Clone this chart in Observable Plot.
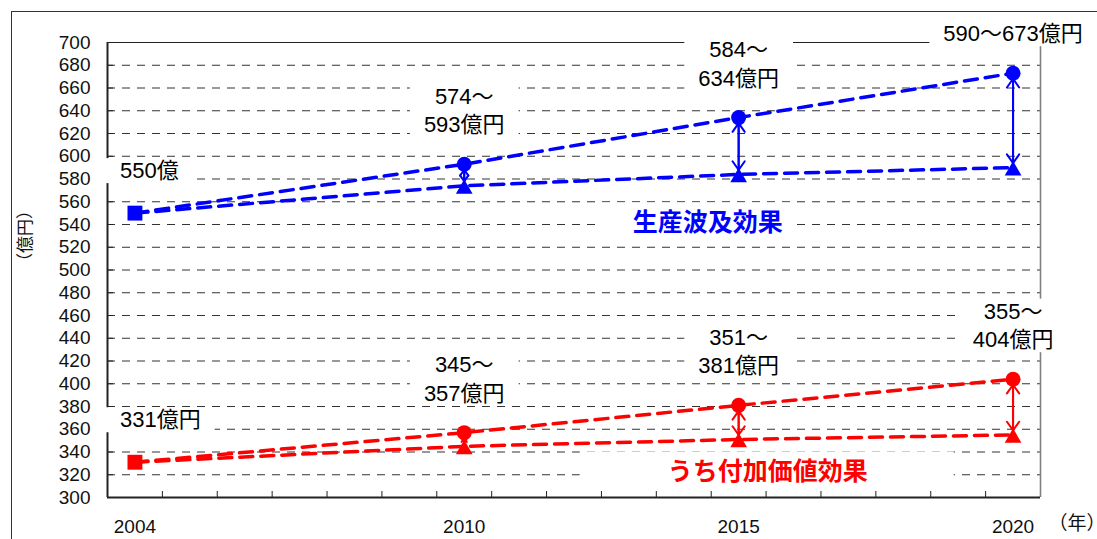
<!DOCTYPE html>
<html><head><meta charset="utf-8">
<script src="https://cdn.jsdelivr.net/npm/d3@7"></script>
<script src="https://cdn.jsdelivr.net/npm/@observablehq/plot@0.6"></script>
<style>
html,body{margin:0;padding:0;background:#fff;}
#wrap{position:relative;width:1097px;height:539px;overflow:hidden;}
#outer{position:absolute;left:11px;top:11px;width:1200px;height:700px;border-left:1.5px solid #333;border-top:1.5px solid #333;pointer-events:none;}
</style></head><body>
<div id="wrap"><div id="chart"></div><div id="outer"></div></div>
<script>
// ---- data ----
const years = [2004, 2005, 2006, 2007, 2008, 2009, 2010, 2011, 2012, 2013, 2014, 2015, 2016, 2017, 2018, 2019, 2020];
const labelYears = [2004, 2010, 2015, 2020];
const yTicks = [300, 320, 340, 360, 380, 400, 420, 440, 460, 480, 500, 520, 540, 560, 580, 600, 620, 640, 660, 680, 700];
const pointYears = [2004, 2010, 2015, 2020];
const prodHigh = [550, 593, 634, 673];
const prodLow = [550, 574, 584, 590];
const addHigh = [331, 357, 381, 404];
const addLow = [331, 345, 351, 355];
const prodText = ["550億", "574～\n593億円", "584～\n634億円", "590～673億円"];
const addText = ["331億円", "345～\n357億円", "351～\n381億円", "355～\n404億円"];
const seriesNames = ["生産波及効果", "うち付加価値効果"];
const yTitle = "（億円）";
const xTitle = "（年）";

// ---- styles ----
const BLUE = "#0000ff", RED = "#ff0000";
const FONT = '"Liberation Sans", Arial, "Noto Sans CJK JP", sans-serif';
const JFONT = '"Noto Sans CJK JP", sans-serif';

const xDomain = [years[0] - 0.5, years[years.length - 1] + 0.5];
const yDomain = [yTicks[0], yTicks[yTicks.length - 1]];
const gridVals = yTicks.slice(1, -1);
const boundaries = years.slice(1).map(y => y - 0.5);

const series = [
  {color: BLUE, high: prodHigh, low: prodLow, text: prodText, name: seriesNames[0], nameDx: -31, nameDy: 49, padL: 37, padR: 13},
  {color: RED, high: addHigh, low: addLow, text: addText, name: seriesNames[1], nameDx: 29, nameDy: 33, padL: 88, padR: 86}
];

const marks = [
  Plot.ruleY(gridVals, {stroke: "#333", strokeWidth: 1, strokeDasharray: "8,7"}),
  Plot.ruleY([yDomain[1]], {stroke: "#222", strokeWidth: 1.2}),
  Plot.ruleX([xDomain[1]], {stroke: "#808080", strokeWidth: 1.6}),
  Plot.ruleX([xDomain[0]], {stroke: "#222", strokeWidth: 2}),
  Plot.ruleY([yDomain[0]], {stroke: "#222", strokeWidth: 2}),
  Plot.axisY(yTicks, {tickSize: 6, dx: 6, tickFormat: () => "", stroke: "#222", label: null}),
  Plot.axisY(yTicks, {tickSize: 0, tickPadding: 17, tickFormat: d => String(d), fontSize: 19, fill: "#111", label: null}),
  Plot.axisX(boundaries, {tickSize: 6, dy: -6, tickFormat: () => "", stroke: "#222", label: null}),
  Plot.axisX(labelYears, {tickSize: 0, tickPadding: 22, tickFormat: d => String(d), fontSize: 19, fill: "#111", label: null})
];

const labelFirst = [], labelRest = [];
series.forEach(s => {
  const highRows = pointYears.map((year, i) => ({year, value: s.high[i]}));
  const lowRows = pointYears.map((year, i) => ({year, value: s.low[i]}));
  const arrowRows = pointYears.slice(1).map((year, j) => ({year, high: s.high[j + 1], low: s.low[j + 1]}));
  pointYears.forEach((year, i) => (i === 0 ? labelFirst : labelRest).push({year, value: s.high[i], text: s.text[i]}));
  marks.push(
    Plot.line(highRows, {x: "year", y: "value", stroke: s.color, strokeWidth: 3.5, strokeDasharray: "13,8"}),
    Plot.line(lowRows, {x: "year", y: "value", stroke: s.color, strokeWidth: 3.5, strokeDasharray: "13,8"}),
    Plot.arrow(arrowRows, {x1: "year", x2: "year", y1: "low", y2: "high", stroke: s.color, strokeWidth: 2, headLength: 8, headAngle: 70, insetStart: 4.5, insetEnd: 5.5}),
    Plot.arrow(arrowRows, {x1: "year", x2: "year", y1: "high", y2: "low", stroke: s.color, strokeWidth: 2, headLength: 8, headAngle: 70, insetStart: 5.5, insetEnd: 4.5}),
    Plot.dot(highRows.slice(0, 1), {x: "year", y: "value", symbol: "square", r: 8.4, fill: s.color}),
    Plot.dot(highRows.slice(1), {x: "year", y: "value", symbol: "circle", r: 7.5, fill: s.color}),
    Plot.dot(lowRows.slice(1), {x: "year", y: "value", symbol: "triangle", r: 6.2, dy: 3, fill: s.color}),
    Plot.text([{year: pointYears[2], value: s.low[2], name: s.name}], {x: "year", y: "value", text: "name", fill: s.color, fontFamily: JFONT, fontWeight: "bold", fontSize: 25, dx: s.nameDx, dy: s.nameDy, lineAnchor: "middle"})
  );
});

marks.push(
  Plot.text(labelRest, {x: "year", y: "value", text: "text", lineAnchor: "bottom", dy: -32, fontSize: 22, lineHeight: 1.3, fill: "#000"}),
  Plot.text(labelFirst, {x: "year", y: "value", text: "text", lineAnchor: "bottom", textAnchor: "start", dx: -15, dy: -35, fontSize: 22, lineHeight: 1.3, fill: "#000"}),
  Plot.text([yTitle], {frameAnchor: "left", text: d => d, rotate: -90, dx: -82, fontSize: 17, fontFamily: JFONT, fill: "#111"}),
  Plot.text([xTitle], {frameAnchor: "bottom-right", text: d => d, textAnchor: "start", dx: 8, dy: 32, fontSize: 19, fontFamily: JFONT, fill: "#111"})
);

const svg = Plot.plot({
  width: 1097, height: 539,
  marginLeft: 107, marginRight: 57, marginTop: 42, marginBottom: 42,
  x: {domain: xDomain, label: null},
  y: {domain: yDomain, label: null},
  style: {fontFamily: FONT, fontSize: "19px", color: "#111", background: "transparent"},
  marks
});
document.getElementById("chart").append(svg);

// white boxes behind annotation labels (hide gridlines like the original text boxes)
const NS = "http://www.w3.org/2000/svg";
const sr = svg.getBoundingClientRect();
const firstLine = svg.querySelector('g[aria-label="line"]');
const boxLayer = document.createElementNS(NS, "g");
svg.insertBefore(boxLayer, firstLine);
svg.querySelectorAll('g[aria-label="text"]').forEach(g => {
  const fs = g.getAttribute("font-size");
  const fill = (g.getAttribute("fill") || "").toLowerCase();
  let pl = null, pr = null;
  if (fs === "22") { pl = 14; pr = 14; }
  else if (fs === "25") {
    const s = series.find(d => d.color === fill) || series[0];
    pl = s.padL; pr = s.padR;
  }
  if (pl === null) return;
  g.querySelectorAll("text").forEach(t => {
    const r = t.getBoundingClientRect();
    const rect = document.createElementNS(NS, "rect");
    rect.setAttribute("x", r.left - sr.left - pl);
    rect.setAttribute("y", r.top - sr.top);
    rect.setAttribute("width", r.width + pl + pr);
    rect.setAttribute("height", r.height);
    rect.setAttribute("fill", "#fff");
    boxLayer.append(rect);
  });
});
</script>
</body></html>
